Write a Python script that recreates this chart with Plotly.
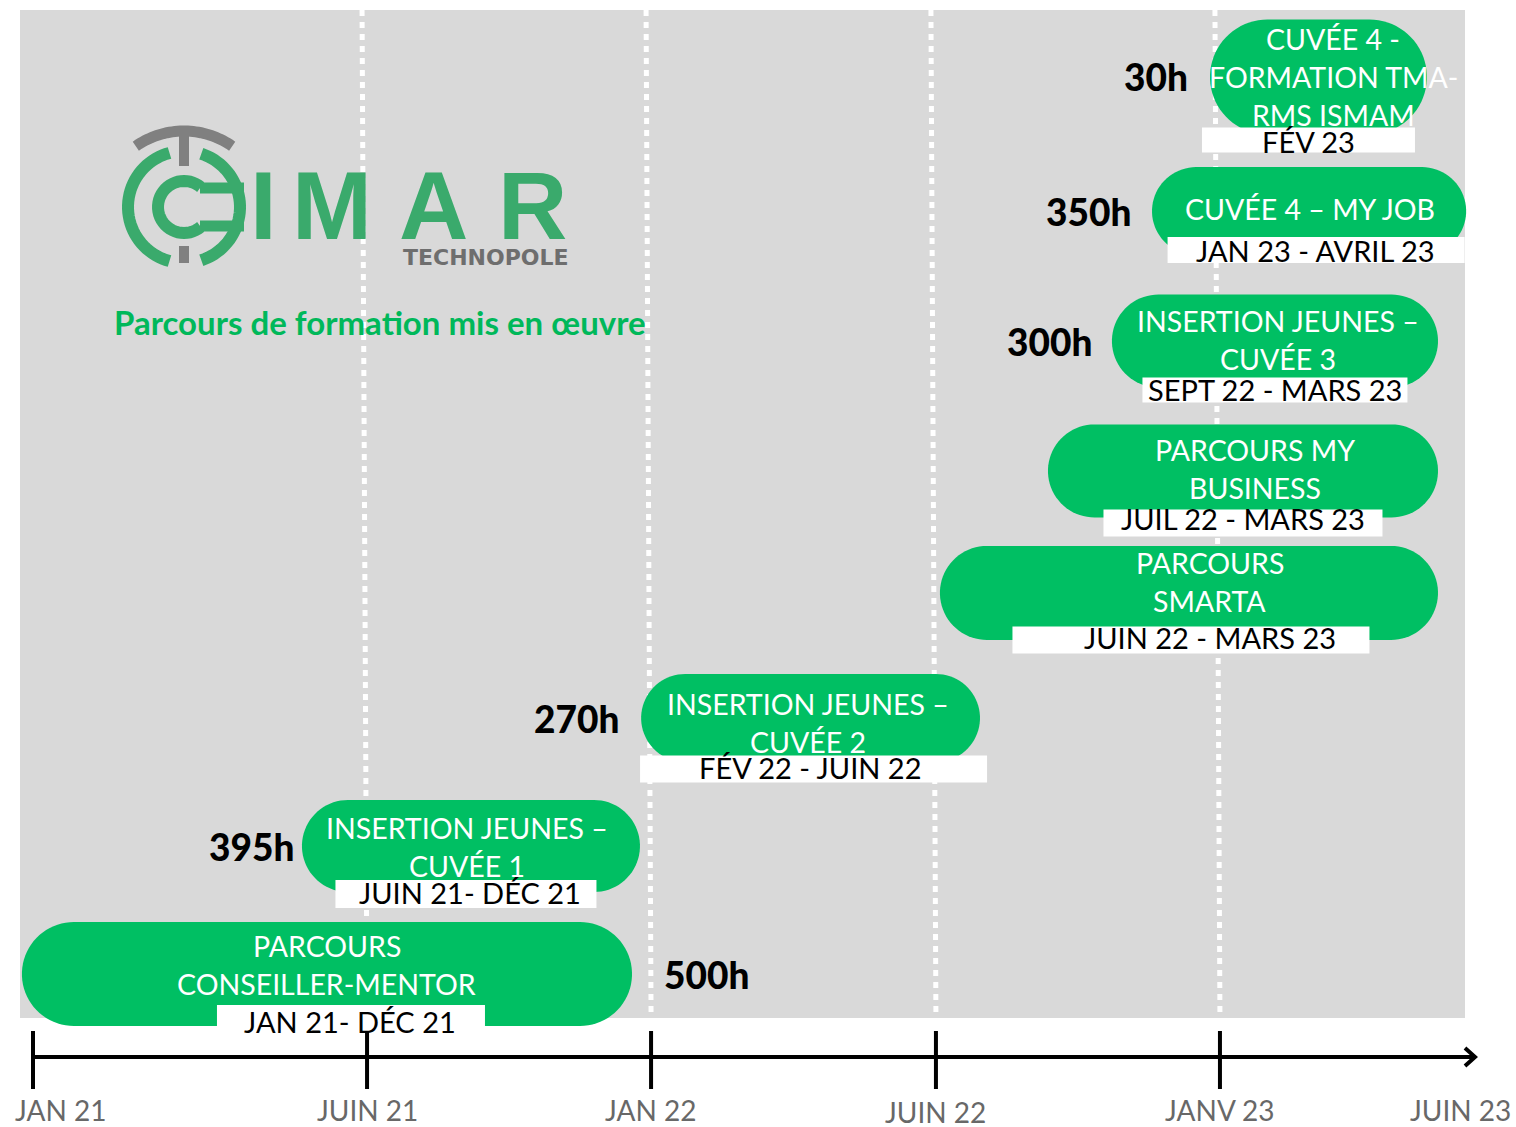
import numpy as np
import plotly.graph_objects as go

# ---------------- data ----------------
tick_labels = ["JAN 21", "JUIN 21", "JAN 22", "JUIN 22", "JANV 23", "JUIN 23"]
tick_pos = [0.0, 1.175, 2.174, 3.176, 4.175, 5.02]
tick_marked = [True, True, True, True, True, False]

prog_titles = [
    "PARCOURS<br>CONSEILLER-MENTOR",
    "INSERTION JEUNES –<br>CUVÉE 1",
    "INSERTION JEUNES –<br>CUVÉE 2",
    "PARCOURS<br>SMARTA",
    "PARCOURS MY<br>BUSINESS",
    "INSERTION JEUNES –<br>CUVÉE 3",
    "CUVÉE 4 – MY JOB",
    "CUVÉE 4 -<br>FORMATION TMA-<br>RMS ISMAM",
]
prog_periods = ["JAN 21- DÉC 21", "JUIN 21- DÉC 21", "FÉV 22 - JUIN 22", "JUIN 22 - MARS 23",
                "JUIL 22 - MARS 23", "SEPT 22 - MARS 23", "JAN 23 - AVRIL 23", "FÉV 23"]
prog_hours = ["500h", "395h", "270h", "", "", "300h", "350h", "30h"]
prog_start = [-0.039, 0.946, 2.139, 3.190, 3.570, 3.795, 3.936, 4.140]
prog_end = [2.107, 2.135, 3.331, 4.942, 4.942, 4.942, 5.041, 4.903]
prog_row = [0.0, 1.0, 2.0, 2.977, 3.93, 4.945, 5.96, 7.008]

title_text = "Parcours de formation mis en œuvre"

# ---------------- styling ----------------
W, H = 1516, 1127
PX_X, PX_Y = 284.3, 128.0     # pixels per axis unit
X0, Y0 = 33.0, 974.0          # pixel position of (0, 0)

GREEN = "#00BF63"
LOGO_GREEN = "#3AAA6C"
BG = "#D9D9D9"

pill_h_px = [104, 92, 88, 94, 93, 93, 88, 115]
text_dx_px = [0, -4, -3, 21, 12, 3, 1, 15]
text_dy_px = [-9, 1, 5, -11, -2, -1, -2, 0]
line_gap_px = 38
box_dx_px = [24, -5, 3, 2, 0, 0, 7, -10]
box_dy_px = [46, 48, 51, 47, 52, 49, 39, 63]
box_w_px = [268, 261, 347, 357, 279, 265, 297, 213]
box_h_px = [30, 28, 27, 27, 27, 25, 26, 25]
date_dx_px = [23, -1, 0, 21, 0, 0, 6, -10]
date_dy_px = [47, 46, 49, 45, 48, 48, 39, 65]
hours_gap_px = [30, 6, 20, 0, 0, 18, 19, 20]


def X(px):
    return (px - X0) / PX_X


def Y(py):
    return (Y0 - py) / PX_Y


def pts_path(pts, close=False):
    s = "M " + " L ".join(f"{x:.5f},{y:.5f}" for x, y in pts)
    return s + (" Z" if close else "")


def pill_path(x0, x1, yc, h):
    rx = (h * PX_Y / 2) / PX_X
    pts = []
    for a in np.linspace(np.pi / 2, -np.pi / 2, 40):
        pts.append((x1 - rx + rx * np.cos(a), yc + h / 2 * np.sin(a)))
    for a in np.linspace(-np.pi / 2, -3 * np.pi / 2, 40):
        pts.append((x0 + rx + rx * np.cos(a), yc + h / 2 * np.sin(a)))
    return pts_path(pts, close=True)


def arc_px(cx, cy, r, a0, a1, n=40):
    pts = []
    for a in np.radians(np.linspace(a0, a1, n)):
        pts.append((X(cx + r * np.cos(a)), Y(cy - r * np.sin(a))))
    return pts_path(pts)


shapes = []
annotations = []

# gray background panel
shapes.append(dict(type="rect", xref="x", yref="y", x0=X(20), x1=X(1465), y0=Y(1018), y1=Y(10),
                   fillcolor=BG, line=dict(width=0), layer="above"))

# dotted white guide lines at the marked ticks (except the first)
for tp, mk in zip(tick_pos[1:], tick_marked[1:]):
    if mk:
        shapes.append(dict(type="line", xref="x", yref="y",
                           x0=tp - 5 / PX_X, y0=Y(10), x1=tp, y1=Y(1018),
                           line=dict(color="white", width=5, dash="6px,6px"), layer="above"))

# programme pills
for i in range(len(prog_titles)):
    h = pill_h_px[i] / PX_Y
    shapes.append(dict(type="path", xref="x", yref="y",
                       path=pill_path(prog_start[i], prog_end[i], prog_row[i], h),
                       fillcolor=GREEN, line=dict(width=0), layer="above"))

# white date boxes
for i in range(len(prog_titles)):
    xc = (prog_start[i] + prog_end[i]) / 2 + box_dx_px[i] / PX_X
    yc = prog_row[i] - box_dy_px[i] / PX_Y
    hw = box_w_px[i] / 2 / PX_X
    hh = box_h_px[i] / 2 / PX_Y
    shapes.append(dict(type="rect", xref="x", yref="y", x0=xc - hw, x1=xc + hw,
                       y0=yc - hh, y1=yc + hh, fillcolor="white", line=dict(width=0), layer="above"))

# timeline axis
shapes.append(dict(type="line", xref="x", yref="y", x0=tick_pos[0], x1=X(1474), y0=Y(1057), y1=Y(1057),
                   line=dict(color="black", width=4), layer="above"))
shapes.append(dict(type="path", xref="x", yref="y",
                   path=pts_path([(X(1465), Y(1048)), (X(1475), Y(1057)), (X(1465), Y(1066))]),
                   line=dict(color="black", width=4), layer="above"))
for tp, mk in zip(tick_pos, tick_marked):
    if mk:
        shapes.append(dict(type="line", xref="x", yref="y", x0=tp, x1=tp, y0=Y(1031), y1=Y(1089),
                           line=dict(color="black", width=4), layer="above"))

# tick labels
for j, (lab, tp) in enumerate(zip(tick_labels, tick_pos)):
    if j == 0:
        annotations.append(dict(x=tp - 20 / PX_X, y=Y(1110), text=lab, xanchor="left"))
    else:
        dyl = 2 if lab == "JUIN 22" else 0
        annotations.append(dict(x=tp, y=Y(1110 + dyl), text=lab, xanchor="center"))
for a in annotations:
    a.update(xref="x", yref="y", yanchor="middle", showarrow=False,
             font=dict(family="Lato", size=28, color="#686868"))

# pill texts, dates, hours
for i in range(len(prog_titles)):
    xc = (prog_start[i] + prog_end[i]) / 2
    lines = prog_titles[i].split("<br>")
    n = len(lines)
    for k, ln in enumerate(lines):
        off = (k - (n - 1) / 2) * line_gap_px + text_dy_px[i]
        annotations.append(dict(x=xc + text_dx_px[i] / PX_X, y=prog_row[i] - off / PX_Y, text=ln,
                                xref="x", yref="y", xanchor="center", yanchor="middle", showarrow=False,
                                font=dict(family="Lato", size=28.5, color="white")))
    annotations.append(dict(x=xc + date_dx_px[i] / PX_X, y=prog_row[i] - date_dy_px[i] / PX_Y,
                            text=prog_periods[i], xref="x", yref="y", xanchor="center", yanchor="middle",
                            showarrow=False, font=dict(family="Lato", size=29, color="black")))
    if prog_hours[i]:
        if i == 0:
            hx, anc = prog_end[i] + hours_gap_px[i] / PX_X, "left"
        else:
            hx, anc = prog_start[i] - hours_gap_px[i] / PX_X, "right"
        annotations.append(dict(x=hx, y=prog_row[i], text=prog_hours[i], xref="x", yref="y",
                                xanchor=anc, yanchor="middle", showarrow=False,
                                font=dict(family="Lato", size=37, color="black", weight=900)))

# ---------------- logo ----------------
GRAY = "#808080"
shapes.append(dict(type="path", xref="x", yref="y", path=arc_px(184, 215, 84, 55, 125),
                   line=dict(color=GRAY, width=11), layer="above"))
shapes.append(dict(type="line", xref="x", yref="y", x0=X(184), x1=X(184), y0=Y(132), y1=Y(166),
                   line=dict(color=GRAY, width=10), layer="above"))
shapes.append(dict(type="line", xref="x", yref="y", x0=X(184), x1=X(184), y0=Y(246), y1=Y(263),
                   line=dict(color=GRAY, width=10), layer="above"))
shapes.append(dict(type="path", xref="x", yref="y", path=arc_px(184, 207, 56, 105, 255),
                   line=dict(color=LOGO_GREEN, width=12), layer="above"))
shapes.append(dict(type="path", xref="x", yref="y", path=arc_px(184, 207, 56, -72, 72),
                   line=dict(color=LOGO_GREEN, width=12), layer="above"))
shapes.append(dict(type="path", xref="x", yref="y", path=arc_px(184, 207, 26, 50, 310),
                   line=dict(color=LOGO_GREEN, width=12), layer="above"))
shapes.append(dict(type="line", xref="x", yref="y", x0=X(200), x1=X(244), y0=Y(188), y1=Y(188),
                   line=dict(color=LOGO_GREEN, width=11), layer="above"))
shapes.append(dict(type="line", xref="x", yref="y", x0=X(200), x1=X(244), y0=Y(226), y1=Y(226),
                   line=dict(color=LOGO_GREEN, width=11), layer="above"))

for letter, cx in zip(["I", "M", "A", "R"], [263, 332, 433, 532]):
    annotations.append(dict(x=X(cx), y=Y(205), text=letter, xref="x", yref="y", xanchor="center",
                            yanchor="middle", showarrow=False,
                            font=dict(family="Liberation Sans", size=96, color=LOGO_GREEN, weight="bold")))
annotations.append(dict(x=X(486), y=Y(257), text="TECHNOPOLE", xref="x", yref="y", xanchor="center",
                        yanchor="middle", showarrow=False,
                        font=dict(family="DejaVu Sans", size=22, color="#6E6E6E", weight="bold")))
annotations.append(dict(x=X(112), y=Y(322), text=title_text, xref="x", yref="y", xanchor="left",
                        yanchor="middle", showarrow=False,
                        font=dict(family="Lato", size=33, color="#00B85A", weight="bold")))

fig = go.Figure()
fig.add_trace(go.Scatter(x=[tick_pos[0]], y=[0], mode="markers", marker=dict(opacity=0),
                         hoverinfo="skip", showlegend=False))
fig.update_layout(
    width=W, height=H, autosize=False,
    margin=dict(l=0, r=0, t=0, b=0, pad=0),
    paper_bgcolor="white", plot_bgcolor="white",
    xaxis=dict(range=[X(0), X(W)], visible=False, fixedrange=True),
    yaxis=dict(range=[Y(H), Y(0)], visible=False, fixedrange=True),
    shapes=shapes, annotations=annotations, showlegend=False,
)
fig.write_html("out.html", config={"displayModeBar": False},
               post_script="document.body.style.margin='0';document.body.style.overflow='hidden';")
